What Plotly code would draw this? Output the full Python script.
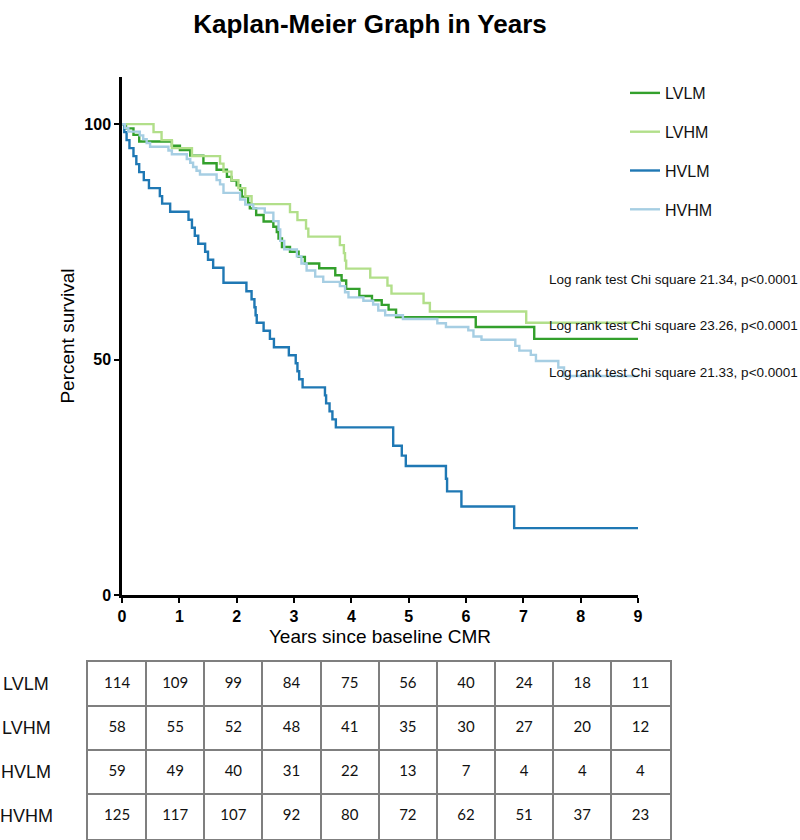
import plotly.graph_objects as go

W, H = 800, 840

groups = ["LVLM", "LVHM", "HVLM", "HVHM"]
colors = ["#33a02c", "#b2df8a", "#1f78b4", "#a6cee3"]

# Kaplan-Meier step data (time in years, percent survival)
lvlm_t = [0, 0.07, 0.2, 0.3, 0.87, 1.01, 1.19, 1.42, 1.65, 1.83, 1.91, 2.0, 2.06, 2.09, 2.2, 2.23,
          2.34, 2.47, 2.64, 2.7, 2.73, 2.79, 2.93, 3.08, 3.19, 3.44, 3.72, 3.83, 3.91, 4.14, 4.36,
          4.53, 4.65, 4.78, 6.17, 7.19, 9]
lvlm_s = [100, 99.1, 97.7, 96.3, 95.4, 94.5, 93.3, 91.7, 90.3, 88.8, 88.0, 87.0, 86.1, 84.6, 83.2, 82.1,
          80.7, 79.3, 78.2, 77.1, 75.7, 73.9, 72.9, 71.8, 70.4, 69.4, 67.9, 66.8, 65.0, 63.5, 62.6,
          61.6, 60.6, 59.0, 56.9, 54.4, 54.4]

lvhm_t = [0, 0.55, 0.69, 0.87, 1.22, 1.71, 1.77, 1.91, 2.03, 2.15, 2.26, 2.93, 3.06, 3.21, 3.25,
          3.80, 3.87, 3.89, 3.91, 4.33, 4.63, 4.70, 5.26, 5.37, 7.05, 9]
lvhm_s = [100, 98.3, 96.6, 94.9, 93.2, 91.6, 89.9, 88.1, 86.4, 84.7, 83.0, 81.3, 79.6, 77.8, 76.1,
          74.3, 72.6, 71.0, 69.3, 67.4, 65.7, 64.0, 62.0, 60.2, 57.8, 57.8]

hvlm_t = [0, 0.04, 0.08, 0.13, 0.2, 0.25, 0.3, 0.38, 0.47, 0.66, 0.7, 0.84, 1.16, 1.22, 1.27, 1.33,
          1.45, 1.5, 1.59, 1.77, 2.17, 2.26, 2.31, 2.33, 2.35, 2.47, 2.58, 2.65, 2.91, 3.03, 3.06,
          3.09, 3.15, 3.54, 3.56, 3.62, 3.67, 3.73, 4.73, 4.88, 4.95, 5.65, 5.67, 5.92, 6.84, 9]
hvlm_s = [100, 98.3, 96.6, 94.9, 93.2, 91.5, 89.8, 88.1, 86.4, 84.7, 83.1, 81.4, 79.7, 78.0, 76.3, 74.6,
          72.9, 71.2, 69.5, 66.3, 64.5, 62.8, 61.1, 59.4, 57.8, 56.1, 54.4, 52.6, 50.9, 49.2, 47.5,
          45.8, 44.1, 42.4, 40.7, 39.0, 37.3, 35.6, 31.7, 29.6, 27.4, 24.7, 22.0, 18.8, 14.2, 14.2]

hvhm_t = [0, 0.05, 0.11, 0.31, 0.37, 0.43, 0.49, 0.81, 0.87, 1.13, 1.19, 1.24, 1.30, 1.36, 1.65,
          1.71, 1.77, 2.06, 2.15, 2.29, 2.49, 2.64, 2.73, 2.76, 2.83, 3.05, 3.13, 3.22, 3.37, 3.51,
          3.80, 3.89, 3.95, 4.21, 4.38, 4.47, 4.59, 4.9, 5.5, 5.65, 6.04, 6.13, 6.27, 6.86, 6.93,
          7.13, 7.22, 7.61, 7.71, 9]
hvhm_s = [100, 99.2, 98.4, 97.6, 96.8, 96.0, 95.2, 94.4, 93.6, 92.6, 91.8, 90.9, 90.1, 89.3, 88.1,
          87.2, 85.4, 84.0, 82.9, 82.1, 81.2, 79.4, 77.6, 75.2, 73.4, 71.9, 70.4, 68.9, 67.6, 66.5,
          65.6, 64.3, 63.2, 62.5, 61.7, 60.4, 59.4, 58.6, 57.7, 56.9, 56.2, 54.9, 54.2, 52.9, 51.9,
          51.0, 49.7, 48.3, 46.5, 46.5]

curves_t = [lvlm_t, lvhm_t, hvlm_t, hvhm_t]
curves_s = [lvlm_s, lvhm_s, hvlm_s, hvhm_s]

# Numbers at risk
years = list(range(10))
at_risk_lvlm = [114, 109, 99, 84, 75, 56, 40, 24, 18, 11]
at_risk_lvhm = [58, 55, 52, 48, 41, 35, 30, 27, 20, 12]
at_risk_hvlm = [59, 49, 40, 31, 22, 13, 7, 4, 4, 4]
at_risk_hvhm = [125, 117, 107, 92, 80, 72, 62, 51, 37, 23]
at_risk = [at_risk_lvlm, at_risk_lvhm, at_risk_hvlm, at_risk_hvhm]

logrank_labels = ["Log rank test Chi square 21.34, p<0.0001",
                  "Log rank test Chi square 23.26, p<0.0001",
                  "Log rank test Chi square 21.33, p<0.0001"]

title_text = "Kaplan-Meier Graph in Years"
x_title = "Years since baseline CMR"
y_title = "Percent survival"


def fx(px):
    return px / W


def fy(py):
    return 1 - py / H


fig = go.Figure()

for i, g in enumerate(groups):
    fig.add_trace(go.Scatter(
        x=curves_t[i], y=curves_s[i], mode="lines", line_shape="hv",
        line=dict(color=colors[i], width=2.4), name=g, legendgroup=g,
        xaxis="x", yaxis="y"))

# at-risk table cells
cx, cy, ct = [], [], []
for r, row in enumerate(at_risk):
    for c, v in enumerate(row):
        cx.append(years[c])
        cy.append(r)
        ct.append(str(v))
fig.add_trace(go.Scatter(
    x=cx, y=cy, text=ct, mode="text", showlegend=False, hoverinfo="skip",
    textfont=dict(family="Lato, Carlito, Open Sans, sans-serif", size=15, color="#111"),
    xaxis="x2", yaxis="y2"))

for r, g in enumerate(groups):
    fig.add_annotation(
        x=fx(26), y=r, xref="paper", yref="y2", xanchor="center", yanchor="middle",
        text=g, showarrow=False,
        font=dict(family="Liberation Sans, Arial, sans-serif", size=18, color="#111"))

for k, lab in enumerate(logrank_labels):
    fig.add_annotation(
        x=fx(547), y=fy([280, 326, 372][k]), xref="paper", yref="paper",
        xanchor="left", yanchor="middle", text=lab, showarrow=False,
        font=dict(family="Liberation Sans, Arial, sans-serif", size=13.5, color="#111"))

axis_font = dict(family="Liberation Sans Narrow, Arial Narrow, Liberation Sans, sans-serif",
                 size=16, color="#000", weight="bold")
grid_col = "#7f7f7f"

fig.update_layout(
    width=W, height=H,
    margin=dict(l=0, r=0, t=0, b=0, autoexpand=False),
    paper_bgcolor="white", plot_bgcolor="white",
    title=dict(text=title_text, x=fx(370), xanchor="center", y=fy(24), yanchor="middle",
               font=dict(family="Liberation Sans Narrow, Arial Narrow, Liberation Sans, sans-serif",
                         size=26, color="#000", weight="bold")),
    xaxis=dict(domain=[fx(122), fx(638)], range=[0, 9], tickvals=years, automargin=False,
               showgrid=False, zeroline=False, showline=True, linecolor="#000", linewidth=2.5,
               ticks="outside", ticklen=5, tickwidth=2, tickcolor="#000", tickfont=axis_font,
               title=dict(text=x_title, standoff=6,
                          font=dict(family="Liberation Sans, Arial, sans-serif", size=19, color="#000")),
               anchor="y"),
    yaxis=dict(domain=[fy(595), fy(77)], range=[0, 110], tickvals=[0, 50, 100], automargin=False,
               showgrid=False, zeroline=False, showline=True, linecolor="#000", linewidth=2.5,
               ticks="outside", ticklen=5, tickwidth=2, tickcolor="#000", tickfont=axis_font,
               title=dict(text=y_title, standoff=5,
                          font=dict(family="Liberation Sans, Arial, sans-serif", size=19, color="#000")),
               anchor="x"),
    xaxis2=dict(domain=[fx(88), fx(669.5)], range=[-0.5, 9.5], anchor="y2", automargin=False,
                tickvals=[c + 0.5 for c in years[:-1]], showticklabels=False, ticks="",
                showgrid=True, gridcolor=grid_col, gridwidth=1.5, zeroline=False,
                showline=True, mirror=True, linecolor=grid_col, linewidth=1.5, fixedrange=True),
    yaxis2=dict(domain=[fy(838.5), fy(662)], range=[3.5, -0.5], anchor="x2", automargin=False,
                tickvals=[r + 0.5 for r in range(len(groups) - 1)], showticklabels=False, ticks="",
                showgrid=True, gridcolor=grid_col, gridwidth=1.5, zeroline=False,
                showline=True, mirror=True, linecolor=grid_col, linewidth=1.5, fixedrange=True),
    legend=dict(x=fx(625), y=fy(76), xanchor="left", yanchor="top",
                font=dict(family="Liberation Sans, Arial, sans-serif", size=16, color="#111"),
                tracegroupgap=15, traceorder="grouped", bgcolor="rgba(0,0,0,0)"),
    showlegend=True,
)

# remove the browser's default 8px body margin so the 800x840 figure fills the window
fig.write_html("out.html", config={"displayModeBar": False},
               post_script="document.body.style.margin='0';document.body.style.overflow='hidden';")
